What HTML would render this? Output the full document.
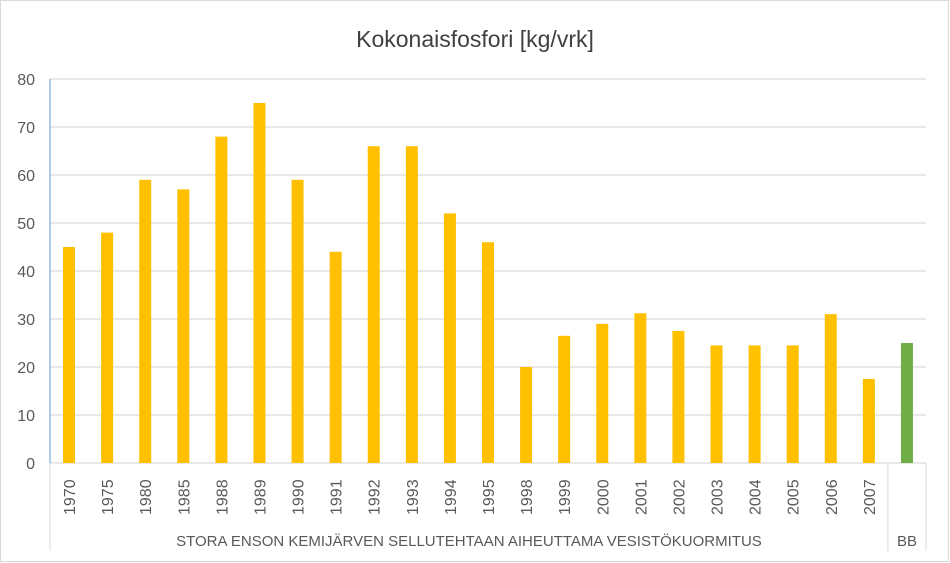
<!DOCTYPE html>
<html><head><meta charset="utf-8"><style>
body{margin:0;background:#fff}
svg{display:block;font-family:"Liberation Sans",sans-serif}
</style></head><body>
<svg id="c" width="950" height="563">
<rect x="0.5" y="0.5" width="948" height="561" fill="#fff" stroke="#d9d9d9"/>
<text x="475" y="47" text-anchor="middle" font-size="23" fill="#404040">Kokonaisfosfori  [kg/vrk]</text>
<g id="grid"></g><g id="bars"></g><g id="xl"></g>
</svg>
<script>
const categories=["1970","1975","1980","1985","1988","1989","1990","1991","1992","1993","1994","1995","1998","1999","2000","2001","2002","2003","2004","2005","2006","2007","BB"];
const values=[45,48,59,57,68,75,59,44,66,66,52,46,20,26.5,29,31.2,27.5,24.5,24.5,24.5,31,17.5,25];
const yTicks=[0,10,20,30,40,50,60,70,80];
const groupLabel="STORA ENSON KEMIJÄRVEN SELLUTEHTAAN AIHEUTTAMA VESISTÖKUORMITUS";
const ns="http://www.w3.org/2000/svg";
const L=50,R=926,T=79,B=463,yMax=80;
const step=(R-L)/categories.length;
const y=v=>B-(v/yMax)*(B-T);
const x=i=>L+step*(i+0.5);
function mk(p,tag,a,t){const e=document.createElementNS(ns,tag);for(const k in a)e.setAttribute(k,a[k]);if(t!=null)e.textContent=t;p.appendChild(e);return e;}
const grid=document.getElementById('grid'),bars=document.getElementById('bars'),xl=document.getElementById('xl');
yTicks.forEach(t=>{
  const l=mk(grid,'line',{x1:L,x2:R,y1:y(t),y2:y(t),stroke:'#d0d0d0','stroke-width':1});
  
  
  const tx=mk(grid,'text',{x:35,y:y(t)+6,'text-anchor':'end','font-size':16,fill:'#595959'},t);
  
  
});
const ax=mk(grid,'line',{x1:L,x2:L,y1:T,y2:B,stroke:'#5b9bd5','stroke-width':1});


values.forEach((v,i)=>{
  const b=mk(bars,'rect',{x:x(i)-6,y:y(v),width:12,height:B-y(v),fill:categories[i]==="BB"?'#70ad47':'#ffc000'});
  
  
  const t=mk(xl,'text',{transform:`translate(${x(i)+6},${categories[i]==="BB"?0:515}) rotate(-90)`,'font-size':16,fill:'#595959'},categories[i]==="BB"?"":categories[i]);
  
  
});
const sep=L+step*(categories.length-1);
[[L,B,L,551],[sep,B,sep,551],[R,B,R,551]].forEach((c,k)=>{
  const l=mk(xl,'line',{x1:c[0],y1:c[1],x2:c[2],y2:c[3],stroke:'#d9d9d9'});
  
  
});
const g=mk(xl,'text',{x:(L+sep)/2,y:546,'text-anchor':'middle','font-size':15,fill:'#595959'},groupLabel);


const bb=mk(xl,'text',{x:(sep+R)/2,y:546,'text-anchor':'middle','font-size':15,fill:'#595959'},"BB");


</script>
</body></html>
